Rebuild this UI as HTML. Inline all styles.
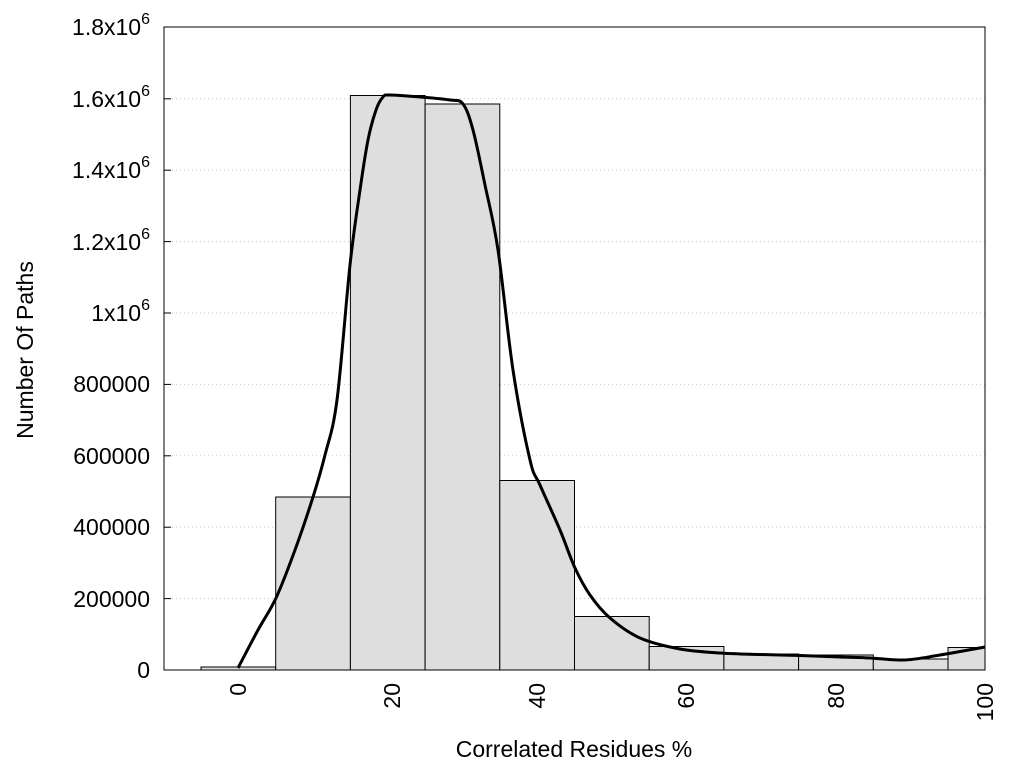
<!DOCTYPE html>
<html><head><meta charset="utf-8"><style>body{margin:0;background:#fff}svg{display:block}text{font-family:"Liberation Sans",sans-serif;fill:#000}</style></head>
<body>
<svg width="1024" height="768" viewBox="0 0 1024 768">
<g stroke="#c8c8c8" stroke-dasharray="1,3" stroke-width="1">
<line x1="164" y1="598.6" x2="985" y2="598.6"/>
<line x1="164" y1="527.2" x2="985" y2="527.2"/>
<line x1="164" y1="455.8" x2="985" y2="455.8"/>
<line x1="164" y1="384.4" x2="985" y2="384.4"/>
<line x1="164" y1="313" x2="985" y2="313"/>
<line x1="164" y1="241.6" x2="985" y2="241.6"/>
<line x1="164" y1="170.2" x2="985" y2="170.2"/>
<line x1="164" y1="98.8" x2="985" y2="98.8"/>
</g>
<g fill="#dedede" stroke="#000" stroke-width="1">
<rect x="201" y="667" width="74.7" height="3"/>
<rect x="275.7" y="497" width="74.7" height="173"/>
<rect x="350.4" y="95.5" width="74.7" height="574.5"/>
<rect x="425.1" y="104" width="74.7" height="566"/>
<rect x="499.8" y="480.5" width="74.7" height="189.5"/>
<rect x="574.5" y="616.5" width="74.7" height="53.5"/>
<rect x="649.2" y="646.5" width="74.7" height="23.5"/>
<rect x="723.9" y="654" width="74.7" height="16"/>
<rect x="798.6" y="655" width="74.7" height="15"/>
<rect x="873.3" y="659" width="74.7" height="11"/>
<rect x="948" y="647.5" width="37" height="22.5"/>
</g>
<path id="curve" fill="none" stroke="#000" stroke-width="3" stroke-linejoin="round" d="M238,668 L258,630 L276,598 L295,550 L313,497 L325,455 L337,400 L350,265 L360,190 L368,140 L376,110 L383,97 L390,95 L420,97 L450,100 L463,104 L473,130 L485,185 L498,250 L513,370 L530,460 L540,485 L560,530 L575,568 L590,595 L610,618 L640,638 L680,649 L720,653 L760,654.5 L800,655.5 L840,657 L870,658 L905,660 L940,655 L985,647"/>
<rect x="164" y="27" width="821" height="643" fill="none" stroke="#000" stroke-width="1"/>
<g stroke="#000"><line x1="164" y1="598.6" x2="171" y2="598.6"/><line x1="164" y1="527.2" x2="171" y2="527.2"/><line x1="164" y1="455.8" x2="171" y2="455.8"/><line x1="164" y1="384.4" x2="171" y2="384.4"/><line x1="164" y1="313" x2="171" y2="313"/><line x1="164" y1="241.6" x2="171" y2="241.6"/><line x1="164" y1="170.2" x2="171" y2="170.2"/><line x1="164" y1="98.8" x2="171" y2="98.8"/></g>
<g font-size="23" text-anchor="end">
<text x="150" y="678">0</text>
<text x="150" y="607">200000</text>
<text x="150" y="535">400000</text>
<text x="150" y="464">600000</text>
<text x="150" y="392">800000</text>
<text x="150" y="321">1x10<tspan font-size="16" dy="-11">6</tspan></text>
<text x="150" y="250">1.2x10<tspan font-size="16" dy="-11">6</tspan></text>
<text x="150" y="178">1.4x10<tspan font-size="16" dy="-11">6</tspan></text>
<text x="150" y="107">1.6x10<tspan font-size="16" dy="-11">6</tspan></text>
<text x="150" y="35">1.8x10<tspan font-size="16" dy="-11">6</tspan></text>
</g>
<g font-size="23" text-anchor="end">
<text transform="translate(246,683) rotate(-90)">0</text>
<text transform="translate(400,683) rotate(-90)">20</text>
<text transform="translate(545,683) rotate(-90)">40</text>
<text transform="translate(694,683) rotate(-90)">60</text>
<text transform="translate(844,683) rotate(-90)">80</text>
<text transform="translate(993,683) rotate(-90)">100</text>
</g>
<text x="574" y="757" font-size="23" text-anchor="middle">Correlated Residues %</text>
<text transform="translate(33,350) rotate(-90)" font-size="23" text-anchor="middle">Number Of Paths</text>
</svg>
<script>
(function(){var p=document.getElementById('curve');var pts=p.getAttribute('d').replace(/[ML]/g,' ').trim().split(/\s+/).map(function(s){return s.split(',').map(Number)});
var d='M'+pts[0][0]+','+pts[0][1];
for(var i=0;i<pts.length-1;i++){var p0=pts[i-1]||pts[i],p1=pts[i],p2=pts[i+1],p3=pts[i+2]||p2;
var c1=[p1[0]+(p2[0]-p0[0])/6,p1[1]+(p2[1]-p0[1])/6],c2=[p2[0]-(p3[0]-p1[0])/6,p2[1]-(p3[1]-p1[1])/6];
d+=' C'+c1.join(',')+' '+c2.join(',')+' '+p2.join(',');}
p.setAttribute('d',d);})();
</script>
</body></html>
